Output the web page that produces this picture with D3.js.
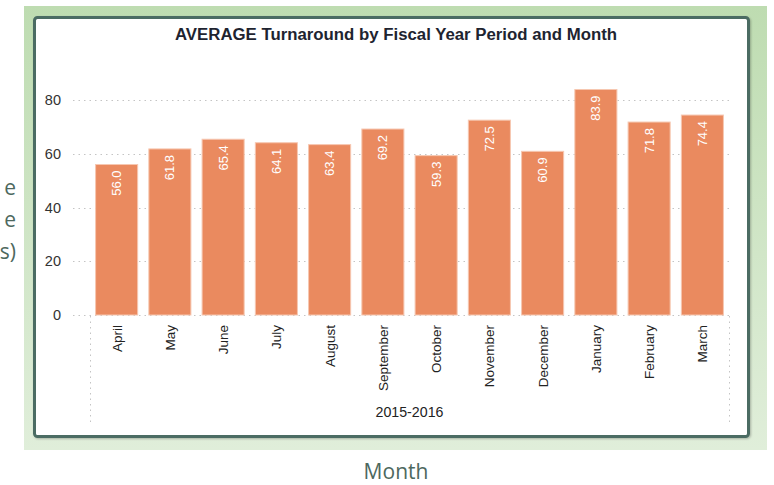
<!DOCTYPE html>
<html>
<head>
<meta charset="utf-8">
<script src="https://cdn.jsdelivr.net/npm/d3@7"></script>
<style>
  html, body { margin: 0; padding: 0; background: #fff; overflow: hidden; }
  svg { display: block; }
</style>
</head>
<body>
<svg id="chart" width="774" height="485"></svg>
<script>
const months = ["April","May","June","July","August","September","October","November","December","January","February","March"];
const values = [56.0, 61.8, 65.4, 64.1, 63.4, 69.2, 59.3, 72.5, 60.9, 83.9, 71.8, 74.4];
const yTicks = [0, 20, 40, 60, 80];
const periodLabel = "2015-2016";
const chartTitle = "AVERAGE Turnaround by Fiscal Year Period and Month";
const yTitleFragments = ["e", "e", "s)"];
const xTitle = "Month";

const svg = d3.select("#chart");
const defs = svg.append("defs");
const grad = defs.append("linearGradient").attr("id", "bg").attr("x1", 0).attr("y1", 0).attr("x2", 0).attr("y2", 1);
grad.append("stop").attr("offset", "0%").attr("stop-color", "#bedcb1");
grad.append("stop").attr("offset", "100%").attr("stop-color", "#e0eeda");
const sh = defs.append("filter").attr("id", "shadow").attr("x", "-5%").attr("y", "-5%").attr("width", "110%").attr("height", "110%");
sh.append("feDropShadow").attr("dx", 1).attr("dy", 1).attr("stdDeviation", 1.2).attr("flood-color", "#000").attr("flood-opacity", 0.25);

// green panel
svg.append("rect").attr("x", 24).attr("y", 6).attr("width", 743).attr("height", 444).attr("fill", "url(#bg)");
// white card
svg.append("rect").attr("x", 34.5).attr("y", 17.5).attr("width", 714).attr("height", 419)
  .attr("rx", 3).attr("fill", "#fff").attr("stroke", "#4b6c63").attr("stroke-width", 3)
  .attr("filter", "url(#shadow)");

// visible ends of the outer y title
const yt = svg.append("text").attr("font-family", "'Open Sans', sans-serif").attr("font-size", 21)
  .attr("fill", "#4d685e").attr("text-anchor", "end");
yTitleFragments.forEach((t, i) => {
  yt.append("tspan").attr("x", 16).attr("y", 195 + i * 32).text(t);
});

svg.append("text").attr("x", 396).attr("y", 479).attr("text-anchor", "middle")
  .attr("font-family", "'Open Sans', sans-serif").attr("font-size", 21).attr("fill", "#4d685e").text(xTitle);

// title
svg.append("text").attr("x", 396).attr("y", 40).attr("text-anchor", "middle")
  .attr("font-family", "'Liberation Sans', Arial, sans-serif").attr("font-weight", "bold").attr("font-size", 16.8)
  .attr("fill", "#1e2430").text(chartTitle);

const x = d3.scaleBand().domain(months).range([90, 729]).paddingInner(0.21).paddingOuter(0.105);
const y = d3.scaleLinear().domain([0, 80]).range([315, 100]);

const font = "'Liberation Sans', Arial, sans-serif";

// gridlines
const grid = svg.append("g");
grid.selectAll("line").data(yTicks).join("line")
  .attr("x1", 73).attr("x2", 729)
  .attr("y1", d => Math.round(y(d)) + 0.5).attr("y2", d => Math.round(y(d)) + 0.5)
  .attr("stroke", "#c4c4c4").attr("stroke-width", 1).attr("stroke-dasharray", "1.5,4");
[90, 729].forEach(xx => {
  grid.append("line").attr("x1", xx + 0.5).attr("x2", xx + 0.5).attr("y1", 316).attr("y2", 425)
    .attr("stroke", "#c4c4c4").attr("stroke-dasharray", "1.5,4");
});

// y axis
const yAxis = d3.axisLeft(y).tickValues(yTicks).tickSize(0).tickPadding(0);
const ga = svg.append("g").attr("transform", "translate(61,0)").call(yAxis);
ga.select(".domain").remove();
ga.selectAll("text").attr("font-family", font).attr("font-size", 14.5).attr("fill", "#333");

// bars
svg.append("g").selectAll("rect").data(values).join("rect")
  .attr("x", (d, i) => x(months[i]))
  .attr("y", d => y(d))
  .attr("width", x.bandwidth())
  .attr("height", d => y(0) - y(d))
  .attr("fill", "#ea8a5f").attr("stroke", "#f6c7b1").attr("stroke-width", 1);

// value labels
svg.append("g").selectAll("text").data(values).join("text")
  .attr("transform", (d, i) => `translate(${x(months[i]) + x.bandwidth() / 2 + 4.5},${y(d) + 6}) rotate(-90)`)
  .attr("text-anchor", "end")
  .attr("font-family", font).attr("font-size", 13).attr("fill", "#fff")
  .text(d => d.toFixed(1));

// x axis labels
const xAxis = d3.axisBottom(x).tickSize(0).tickPadding(0);
const gx = svg.append("g").attr("transform", "translate(0,315)").call(xAxis);
gx.select(".domain").remove();
gx.selectAll("text")
  .attr("font-family", font).attr("font-size", 13.5).attr("fill", "#222")
  .attr("text-anchor", "end").attr("dy", null)
  .attr("transform", "translate(5,10) rotate(-90)")
  .attr("x", 0).attr("y", 0);

svg.append("text").attr("x", 409.5).attr("y", 417).attr("text-anchor", "middle")
  .attr("font-family", font).attr("font-size", 14.2).attr("fill", "#222").text(periodLabel);
</script>
</body>
</html>
